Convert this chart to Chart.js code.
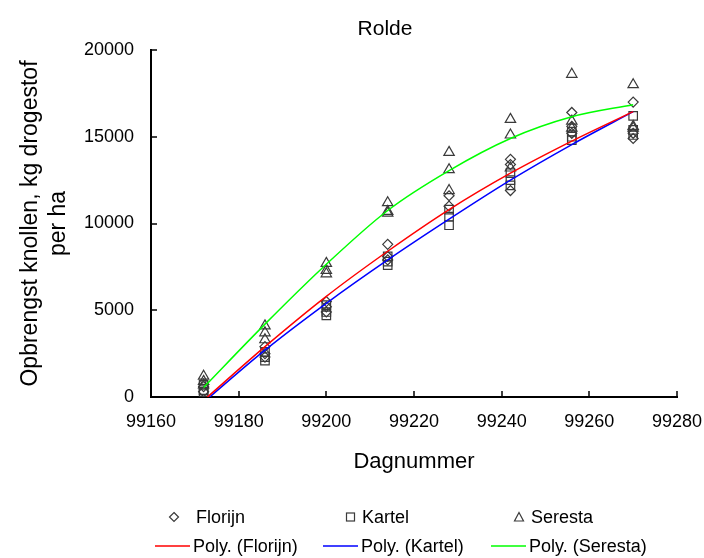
<!DOCTYPE html>
<html lang="nl">
<head>
<meta charset="UTF-8">
<title>Rolde</title>
<script src="https://cdn.jsdelivr.net/npm/chart.js@4.4.0/dist/chart.umd.min.js"></script>
<style>
body { margin: 0; background: #fff; font-family: "Liberation Sans", Arial, sans-serif; }
.wrap { position: relative; width: 704px; height: 558px; }
.chart-title { position: absolute; left: 285px; width: 200px; top: 15px; text-align: center; font-size: 21px; line-height: 26px; color: #000; }
.leg { position: absolute; display: flex; align-items: center; font-size: 18px; color: #000; white-space: nowrap; }
.leg svg { display: block; }
</style>
</head>
<body>
<div class="wrap">
  <canvas id="yieldChart" width="704" height="558"></canvas>
  <div class="chart-title">Rolde</div>
  <div id="legend"></div>
</div>

<script>
// sampling days (Dagnummer)
const days = [99172, 99186, 99200, 99214, 99228, 99242, 99256, 99270];

// replicate yields per sampling day, kg drogestof per ha
const florijnYield = [[600, 300], [2900, 2500, 2300], [5500, 5200, 4900], [8800, 8100, 7900],
  [11600, 11000], [13700, 13400, 11900], [16400, 15600, 15200], [17000, 15200, 14900]];
const kartelYield = [[700, 400, 300], [2600, 2300, 2100], [5300, 4900, 4700], [8100, 7800, 7600],
  [10800, 10400, 9900], [12900, 12500, 12200], [15300, 15000, 14800], [16200, 15400, 15100]];
const serestaYield = [[1200, 900, 700], [4100, 3700, 3300], [7700, 7300, 7100], [11200, 10700, 10600],
  [14100, 13100, 11900], [16000, 15100, 13200], [18600, 15900, 15500], [18000, 15600, 15500]];

// trendline values at each sampling day
const florijnTrend = [-200, 2900, 5800, 8400, 10800, 12900, 14750, 16450];
const kartelTrend = [-300, 2700, 5400, 7900, 10250, 12500, 14550, 16450];
const serestaTrend = [550, 4200, 7650, 10750, 13050, 14900, 16150, 16850];

const xTicks = [99160, 99180, 99200, 99220, 99240, 99260, 99280];
const yTicks = [0, 5000, 10000, 15000, 20000];

function toPoints(reps) {
  const pts = [];
  reps.forEach((vals, i) => vals.forEach(v => pts.push({ x: days[i], y: v })));
  return pts;
}
function toLine(vals) {
  return vals.map((v, i) => ({ x: days[i], y: v }));
}

const markerColor = '#3a3a3a';
function markerSet(label, reps, style, radius) {
  return {
    label: label,
    data: toPoints(reps),
    pointStyle: style,
    pointRadius: radius,
    pointBorderColor: markerColor,
    pointBackgroundColor: 'rgba(0,0,0,0)',
    pointBorderWidth: 1.2,
    showLine: false,
    order: 2
  };
}
function trendSet(label, vals, color) {
  return {
    label: label,
    data: toLine(vals),
    showLine: true,
    borderColor: color,
    borderWidth: 1.5,
    pointRadius: 0,
    cubicInterpolationMode: 'monotone',
    fill: false,
    order: 1
  };
}

// little tick marks on the inside of the axes
const innerTicks = {
  id: 'innerTicks',
  afterDraw(chart) {
    const ctx = chart.ctx;
    const area = chart.chartArea;
    const xs = chart.scales.x, ys = chart.scales.y;
    ctx.save();
    ctx.strokeStyle = '#000';
    ctx.lineWidth = 1.5;
    ctx.beginPath();
    xTicks.forEach(v => {
      const px = Math.round(xs.getPixelForValue(v));
      ctx.moveTo(px, area.bottom);
      ctx.lineTo(px, area.bottom - 6);
    });
    yTicks.forEach(v => {
      const py = Math.round(ys.getPixelForValue(v));
      ctx.moveTo(area.left, py);
      ctx.lineTo(area.left + 6, py);
    });
    ctx.stroke();
    ctx.restore();
  }
};

const font = 'Liberation Sans, Arial, sans-serif';
const ctx = document.getElementById('yieldChart').getContext('2d');
const yieldChart = new Chart(ctx, {
  type: 'scatter',
  data: {
    datasets: [
      markerSet('Florijn', florijnYield, 'rectRot', 5),
      markerSet('Kartel', kartelYield, 'rect', 6),
      markerSet('Seresta', serestaYield, 'triangle', 6),
      trendSet('Poly. (Florijn)', florijnTrend, '#ff0000'),
      trendSet('Poly. (Kartel)', kartelTrend, '#0000ff'),
      trendSet('Poly. (Seresta)', serestaTrend, '#00ff00')
    ]
  },
  options: {
    responsive: false,
    animation: false,
    layout: { padding: { top: 50, right: 27, bottom: 0, left: 0 } },
    plugins: {
      legend: { display: false },
      tooltip: { enabled: false },
      title: { display: false }
    },
    scales: {
      x: {
        type: 'linear',
        min: 99160,
        max: 99280,
        afterFit: s => { s.height = 161; s.paddingRight = 0; s.paddingLeft = 0; },
        afterBuildTicks: s => { s.ticks = xTicks.map(v => ({ value: v })); },
        ticks: {
          color: '#000',
          font: { family: font, size: 18 },
          padding: 14,
          maxRotation: 0,
          callback: v => String(v)
        },
        grid: { display: false, drawTicks: false },
        border: { display: true, color: '#000', width: 2 },
        title: {
          display: true,
          text: 'Dagnummer',
          color: '#000',
          font: { family: font, size: 22 },
          padding: { top: 0, bottom: 83 }
        }
      },
      y: {
        min: 0,
        max: 20000,
        afterFit: s => { s.width = 151; s.paddingTop = 0; },
        afterBuildTicks: s => { s.ticks = yTicks.map(v => ({ value: v })); },
        ticks: {
          color: '#000',
          font: { family: font, size: 18 },
          padding: 17,
          callback: v => String(v)
        },
        grid: { display: false, drawTicks: false },
        border: { display: true, color: '#000', width: 2 },
        title: {
          display: true,
          text: ['Opbrengst knollen, kg drogestof', 'per ha'],
          color: '#000',
          font: { family: font, size: 23 },
          padding: { top: 17, bottom: 0 }
        }
      }
    }
  },
  plugins: [innerTicks]
});

// legend laid out like the original: two rows of three
const legendItems = [
  { label: 'Florijn', kind: 'diamond', left: 166, top: 517 },
  { label: 'Kartel', kind: 'square', left: 344, top: 517 },
  { label: 'Seresta', kind: 'triangle', left: 512, top: 517 },
  { label: 'Poly. (Florijn)', kind: 'line', color: '#ff0000', left: 155, top: 546 },
  { label: 'Poly. (Kartel)', kind: 'line', color: '#0000ff', left: 323, top: 546 },
  { label: 'Poly. (Seresta)', kind: 'line', color: '#00ff00', left: 491, top: 546 }
];

function legendSymbol(item) {
  const s = markerColor;
  if (item.kind === 'diamond')
    return '<svg width="30" height="12"><polygon points="8,1.5 12.5,6 8,10.5 3.5,6" fill="none" stroke="' + s + '" stroke-width="1.2"/></svg>';
  if (item.kind === 'square')
    return '<svg width="18" height="12"><rect x="2.5" y="2" width="8" height="8" fill="none" stroke="' + s + '" stroke-width="1.2"/></svg>';
  if (item.kind === 'triangle')
    return '<svg width="19" height="12"><polygon points="7,1.5 11.5,10 2.5,10" fill="none" stroke="' + s + '" stroke-width="1.2"/></svg>';
  return '<svg width="38" height="6"><line x1="0" y1="3" x2="35" y2="3" stroke="' + item.color + '" stroke-width="1.5"/></svg>';
}

const legendBox = document.getElementById('legend');
legendItems.forEach(item => {
  const el = document.createElement('div');
  el.className = 'leg';
  el.style.left = item.left + 'px';
  el.style.top = (item.top - 11) + 'px';
  el.style.height = '22px';
  el.innerHTML = legendSymbol(item) + '<span>' + item.label + '</span>';
  legendBox.appendChild(el);
});
</script>
</body>
</html>
